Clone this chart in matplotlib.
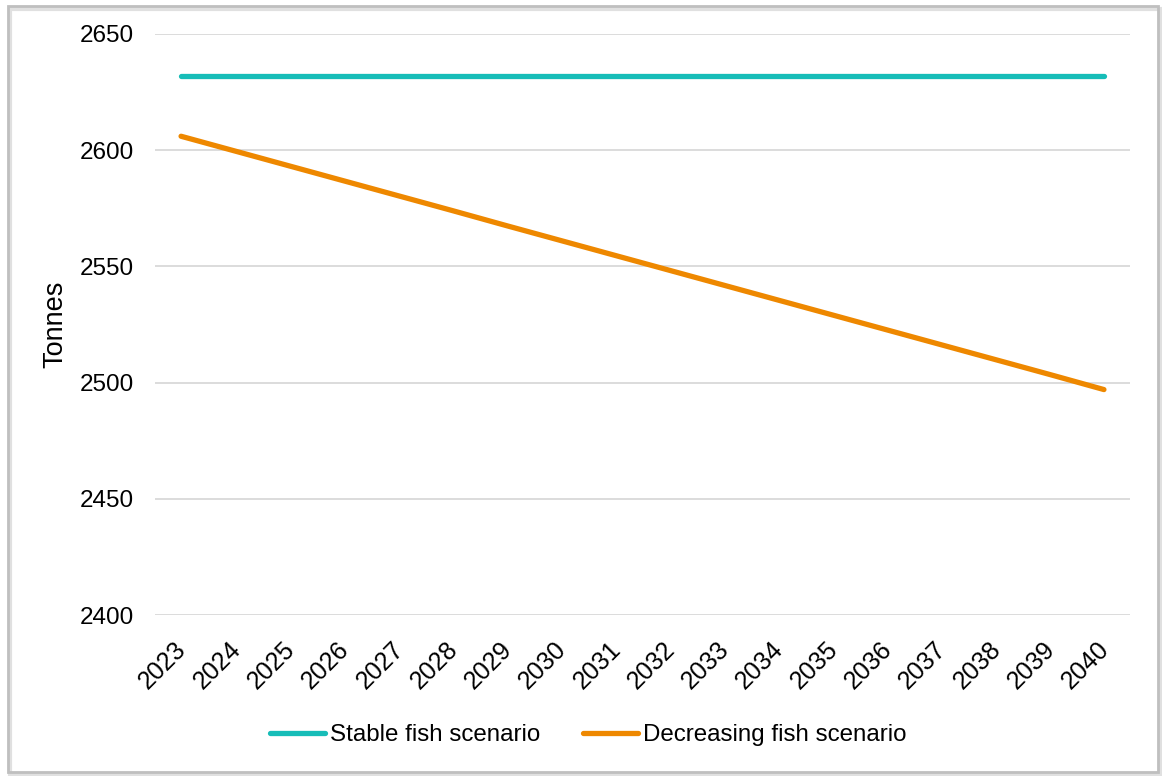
import matplotlib
matplotlib.use('Agg')
import matplotlib.pyplot as plt
import matplotlib.transforms as mtransforms
from matplotlib.patches import Rectangle

plt.rcParams['font.family'] = ['Liberation Sans', 'DejaVu Sans']

years = [str(y) for y in range(2023, 2041)]
stable = [2632] * 18
decreasing = [2606, 2599.6, 2593.2, 2586.8, 2580.4, 2574.0, 2567.5, 2561.1, 2554.7,
              2548.3, 2541.9, 2535.5, 2529.1, 2522.7, 2516.3, 2509.9, 2503.5, 2497]

fig = plt.figure(figsize=(11.62, 7.76), dpi=100)
ax = fig.add_axes([155 / 1162, 1 - 615 / 776, (1130 - 155) / 1162, (615 - 34) / 776])

x = list(range(len(years)))
ax.plot(x, stable, color='#17BDB8', lw=3.8, solid_capstyle='round', label='Stable fish scenario')
ax.plot(x, decreasing, color='#EE8800', lw=3.8, solid_capstyle='round', label='Decreasing fish scenario')

ax.set_ylim(2400, 2650)
ax.set_yticks(range(2400, 2651, 50))
ax.set_xlim(-0.48, len(years) - 1 + 0.48)
ax.set_xticks(x)
ax.set_xticklabels(years, rotation=45, ha='right', va='top', rotation_mode='anchor')
ax.tick_params(axis='y', length=0, labelsize=17.5, pad=15)
ax.tick_params(axis='x', length=0, labelsize=18, pad=16)
shift = mtransforms.ScaledTranslation(-7 / 100, 0, fig.dpi_scale_trans)
for lab in ax.get_xticklabels():
    lab.set_transform(lab.get_transform() + shift)
ax.grid(axis='y', color='#D9D9D9', lw=1.3)
ax.set_axisbelow(True)
for s in ax.spines.values():
    s.set_visible(False)
ax.set_ylabel('Tonnes', fontsize=19.5)
ax.yaxis.set_label_coords(-(155 - 68) / 975, 0.5)

fig.legend(loc='center', bbox_to_anchor=(0.5 + 7 / 1162, 1 - 735 / 776), ncol=2, frameon=False,
           fontsize=17.4, handlelength=2.3, handletextpad=0.2, columnspacing=1.75)

# outer frame with a soft shadow
fig.patches.append(Rectangle((10 / 1162, 1 - 775 / 776), 1150 / 1162, 766 / 776,
                             transform=fig.transFigure, fill=False, ec='#E0E0E0', lw=3))
fig.patches.append(Rectangle((8 / 1162, 1 - 772 / 776), 1150 / 1162, 766 / 776,
                             transform=fig.transFigure, fill=False, ec='#BFBFBF', lw=2))

fig.savefig('out.png', dpi=100, facecolor='white')
